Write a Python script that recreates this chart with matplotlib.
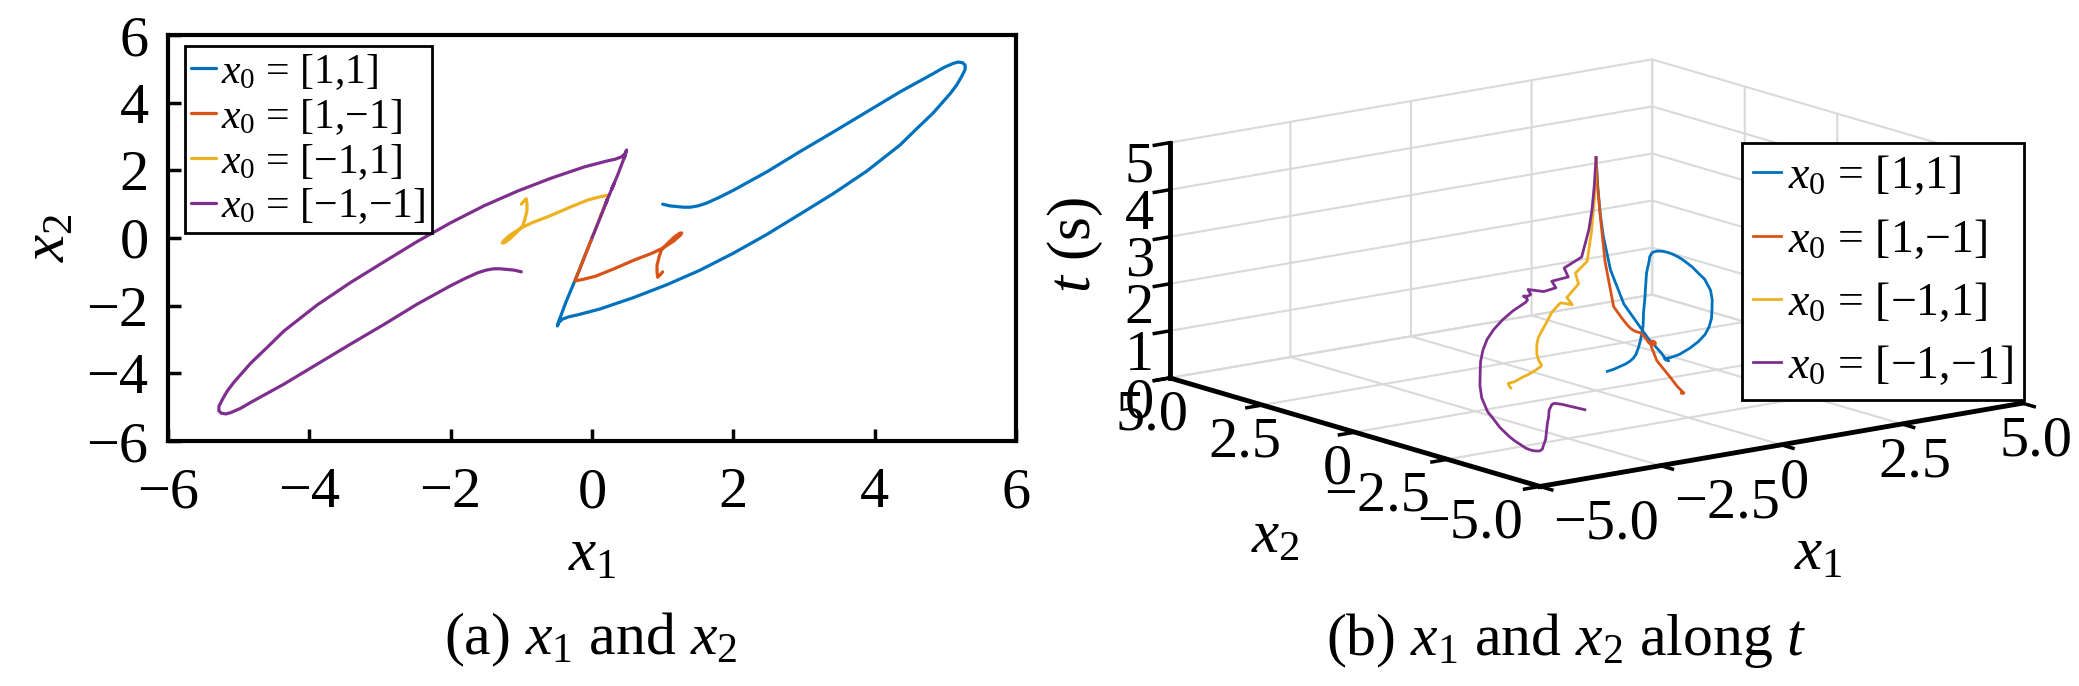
import numpy as np
import matplotlib
matplotlib.use("Agg")
import matplotlib.pyplot as plt

# fonts: Times-like serif everywhere, italic math for the variables
plt.rcParams.update({'font.family': 'serif'})
plt.rcParams.update({'font.serif': ['Liberation Serif', 'DejaVu Serif']})
plt.rcParams.update({'mathtext.fontset': 'custom'})
plt.rcParams.update({'mathtext.rm': 'Liberation Serif'})
plt.rcParams.update({'mathtext.it': 'Liberation Serif:italic'})
plt.rcParams.update({'font.size': 42})
plt.rcParams.update({'xtick.direction': 'in', 'ytick.direction': 'in'})
plt.rcParams.update({'xtick.major.width': 2.5, 'ytick.major.width': 2.5})

# ======================================================
# DATA
# ======================================================

labels = ['$x_0$ = [1,1]', '$x_0$ = [1,\u22121]',
          '$x_0$ = [\u22121,1]', '$x_0$ = [\u22121,\u22121]']
colors = ['#0072BD', '#D95319', '#EDB120', '#7E2F8E']

# x0 = [1, 1]
blue_x1 = [1.0, 1.1, 1.2, 1.3, 1.39, 1.5, 1.62, 1.8, 2.0, 2.47, 2.94, 3.42,
           3.89, 4.36, 4.83, 4.97, 5.11, 5.18, 5.245, 5.28, 5.28, 5.23, 5.16,
           5.07, 4.83, 4.59, 4.36, 3.89, 3.42, 2.94, 2.47, 2.0, 1.53, 1.06,
           0.59, 0.11, -0.2, -0.33, -0.42, -0.47, -0.49, -0.47, -0.45, -0.37,
           -0.28, -0.19, -0.1, -0.05, -0.03, -0.01, 0.0]
blue_x2 = [1.0, 0.95, 0.93, 0.91, 0.91, 0.95, 1.03, 1.2, 1.41, 1.95, 2.55, 3.14,
           3.73, 4.32, 4.86, 5.03, 5.16, 5.2, 5.18, 5.11, 4.98, 4.77, 4.52,
           4.27, 3.7, 3.22, 2.75, 1.98, 1.32, 0.7, 0.1, -0.45, -0.95, -1.38,
           -1.76, -2.1, -2.27, -2.33, -2.4, -2.5, -2.6, -2.45, -2.35, -1.9,
           -1.45, -1.0, -0.52, -0.26, -0.15, -0.06, 0.0]
blue_t = [0.0, 0.04, 0.08, 0.12, 0.16, 0.2, 0.25, 0.32, 0.38, 0.47, 0.55, 0.62,
          0.68, 0.73, 0.78, 0.8, 0.82, 0.83, 0.84, 0.85, 0.86, 0.88, 0.89,
          0.9, 0.92, 0.94, 0.96, 0.99, 1.02, 1.05, 1.08, 1.11, 1.14, 1.17,
          1.2, 1.23, 1.26, 1.28, 1.3, 1.31, 1.32, 1.36, 1.42, 1.6,
          1.85, 2.1, 2.7, 3.35, 3.8, 4.35, 4.95]

# x0 = [1, -1]
red_x1 = [1.0, 0.96, 0.93, 0.92, 0.92, 0.95, 0.98, 1.06, 1.16, 1.24, 1.27,
          1.25, 1.15, 1.0, 0.85, 0.6, 0.3, 0.05, -0.12, -0.24, -0.22, -0.18,
          -0.12, -0.06, -0.03, -0.01, 0.0]
red_x2 = [-1.0, -1.1, -1.16, -1.0, -0.81, -0.55, -0.36, -0.18, 0.02, 0.14,
          0.15, 0.08, -0.1, -0.3, -0.45, -0.65, -0.92, -1.13, -1.22, -1.27,
          -1.15, -0.95, -0.63, -0.32, -0.16, -0.05, 0.0]
red_t = [0.0, 0.02, 0.05, 0.15, 0.3, 0.45, 0.55, 0.65, 0.72, 0.77, 0.79, 0.81,
         0.84, 0.88, 0.93, 1.05, 1.3, 1.48, 1.56, 1.64, 1.68, 1.77, 1.95,
         2.83, 3.69, 4.37, 4.95]

# x0 = [-1, 1]
yellow_x1 = [-1.0, -0.96, -0.93, -0.92, -0.92, -0.95, -0.98, -1.06, -1.16,
             -1.24, -1.27, -1.25, -1.15, -1.0, -0.85, -0.6, -0.3, -0.05, 0.12,
             0.24, 0.16, 0.2, 0.12, 0.14, 0.06, 0.03, 0.01, 0.0]
yellow_x2 = [1.0, 1.1, 1.16, 1.0, 0.81, 0.55, 0.36, 0.18, -0.02, -0.14, -0.15,
             -0.08, 0.1, 0.3, 0.45, 0.65, 0.92, 1.13, 1.22, 1.27, 0.85, 1.05,
             0.63, 0.74, 0.32, 0.16, 0.05, 0.0]
yellow_t = [0.0, 0.02, 0.05, 0.12, 0.25, 0.4, 0.52, 0.62, 0.72, 0.8, 0.84,
            0.88, 0.95, 1.08, 1.18, 1.27, 1.33, 1.41, 1.48, 1.53, 1.6, 1.7,
            2.1, 2.3, 2.66, 3.35, 4.13, 4.95]

# x0 = [-1, -1]
purple_x1 = [-1.0, -1.1, -1.2, -1.3, -1.39, -1.5, -1.62, -1.8, -2.0, -2.47,
             -2.94, -3.42, -3.89, -4.36, -4.83, -4.97, -5.11, -5.18, -5.245,
             -5.28, -5.28, -5.23, -5.16, -5.07, -4.83, -4.59, -4.36, -3.89,
             -3.42, -2.94, -2.47, -2.0, -1.53, -1.06, -0.59, -0.11, 0.2, 0.33,
             0.42, 0.47, 0.49, 0.47, 0.45, 0.47, 0.37, 0.28, 0.31, 0.19, 0.22,
             0.1, 0.05, 0.03, 0.01, 0.0]
purple_x2 = [-1.0, -0.95, -0.93, -0.91, -0.91, -0.95, -1.03, -1.2, -1.41,
             -1.95, -2.55, -3.14, -3.73, -4.32, -4.86, -5.03, -5.16, -5.2,
             -5.18, -5.11, -4.98, -4.77, -4.52, -4.27, -3.7, -3.22, -2.75,
             -1.98, -1.32, -0.7, -0.1, 0.45, 0.95, 1.38, 1.76, 2.1, 2.27, 2.33,
             2.4, 2.5, 2.6, 2.45, 2.35, 2.45, 1.9, 1.45, 1.6, 1.0, 1.15,
             0.52, 0.26, 0.15, 0.06, 0.0]
purple_t = [0.0, 0.04, 0.08, 0.12, 0.16, 0.2, 0.25, 0.32, 0.38, 0.47, 0.55,
            0.62, 0.68, 0.73, 0.78, 0.8, 0.82, 0.83, 0.84, 0.85, 0.86, 0.88,
            0.89, 0.9, 0.92, 0.94, 0.96, 0.99, 1.02, 1.05, 1.08, 1.11, 1.14,
            1.17, 1.2, 1.23, 1.26, 1.28, 1.3, 1.31, 1.32, 1.36, 1.42, 1.5,
            1.6, 1.8, 1.9, 2.15, 2.3, 2.7, 3.35, 3.8, 4.35, 4.95]

series_x1 = [blue_x1, red_x1, yellow_x1, purple_x1]
series_x2 = [blue_x2, red_x2, yellow_x2, purple_x2]
series_t = [blue_t, red_t, yellow_t, purple_t]

ticks_2d = [-6, -4, -2, 0, 2, 4, 6]
ticks_3d = [-5, -2.5, 0, 2.5, 5]
ticklabels_3d = ['\u22125.0', '\u22122.5', '0', '2.5', '5.0']
ticks_t = [0, 1, 2, 3, 4, 5]

# ======================================================
# FIGURE
# ======================================================

W, H = 2079, 686
fig = plt.figure(figsize=(W / 100, H / 100), dpi=100)

# ---- (a) phase plane ----
ax1 = fig.add_axes([168 / W, 1 - 441 / H, 848 / W, 406 / H])
for x1, x2, c, lab in zip(series_x1, series_x2, colors, labels):
    ax1.plot(x1, x2, color=c, lw=2.3, label=lab, solid_capstyle='round')
ax1.set_xlim(-6, 6)
ax1.set_ylim(-6, 6)
ax1.set_xticks(ticks_2d)
ax1.set_yticks(ticks_2d)
ax1.tick_params(length=9, width=2.5, labelsize=42, top=False, right=False)
ax1.tick_params(axis='x', pad=19)
ax1.tick_params(axis='y', pad=14)
for s in ax1.spines.values():
    s.set_linewidth(3)
ax1.set_xlabel('$x_1$', fontsize=44, labelpad=6)
ax1.set_ylabel('$x_2$', fontsize=44, labelpad=6)
leg1 = ax1.legend(loc='upper left', bbox_to_anchor=(185 / W, 1 - 46 / H),
                  bbox_transform=fig.transFigure, fontsize=30, frameon=True,
                  fancybox=False, edgecolor='k', framealpha=1,
                  handlelength=0.6, handletextpad=0.12, borderpad=0.15,
                  labelspacing=0.12, borderaxespad=0)
leg1.get_frame().set_linewidth(2)

fig.text(591 / W, 1 - 640 / H, '(a) $x_1$ and $x_2$', ha='center',
         va='center', fontsize=43)

# ---- (b) trajectories along t ----
side = 894
cx, cy = 1584, 285
ax2 = fig.add_axes([(cx - side / 2) / W, 1 - (cy + side / 2) / H,
                    side / W, side / H], projection='3d')
ax2.set_proj_type('ortho')
ax2.view_init(elev=13, azim=-127.5)
ax2.set_box_aspect((1, 1, 0.397), zoom=0.97)
ax2.patch.set_alpha(0)

for x1, x2, t, c, lab in zip(series_x1, series_x2, series_t, colors, labels):
    ax2.plot(x1, x2, t, color=c, lw=2.0, label=lab)

ax2.set_xlim(-5, 5)
ax2.set_ylim(-5, 5)
ax2.set_zlim(0, 5)
ax2.set_xticks(ticks_3d)
ax2.set_xticklabels(ticklabels_3d)
ax2.set_yticks(ticks_3d)
ax2.set_yticklabels(ticklabels_3d)
ax2.set_zticks(ticks_t)
ax2.tick_params(labelsize=42, pad=4)

# negative labels hang off the tick the way the original export does
for val, tk in zip(ticks_3d, ax2.xaxis.get_major_ticks()):
    if val < 0:
        tk.label1.set_horizontalalignment('left')
for val, tk in zip(ticks_3d, ax2.yaxis.get_major_ticks()):
    if val < 0:
        tk.label1.set_horizontalalignment('right')

for axis in (ax2.xaxis, ax2.yaxis, ax2.zaxis):
    axis.set_pane_color((1, 1, 1, 0))
    axis.pane.set_edgecolor('#cfcfcf')
    axis._axinfo['grid'].update(color='#d9d9d9', linewidth=1.5)
    axis._axinfo['axisline']['color'] = 'k'
    axis._axinfo['axisline']['linewidth'] = 3.5
    axis.line.set_color('k')
    axis.line.set_linewidth(3.5)
    axis._axinfo['tick']['inward_factor'] = 0.4
    axis._axinfo['tick']['outward_factor'] = 0.0

leg2 = ax2.legend(loc='upper left', bbox_to_anchor=(1742 / W, 1 - 143 / H),
                  bbox_transform=fig.transFigure, fontsize=33, frameon=True,
                  fancybox=False, edgecolor='k', framealpha=1,
                  handlelength=0.6, handletextpad=0.15, borderpad=0.25,
                  labelspacing=0.42, borderaxespad=0)
leg2.get_frame().set_linewidth(2)

fig.text(1075 / W, 1 - 245 / H, '$t$ (s)', rotation=90, ha='center',
         va='center', fontsize=44)
fig.text(1275 / W, 1 - 538 / H, '$x_2$', ha='center', va='center', fontsize=44)
fig.text(1818 / W, 1 - 555 / H, '$x_1$', ha='center', va='center', fontsize=44)
fig.text(1566 / W, 1 - 640 / H, '(b) $x_1$ and $x_2$ along $t$', ha='center',
         va='center', fontsize=43)

fig.savefig('out.png', dpi=100)
